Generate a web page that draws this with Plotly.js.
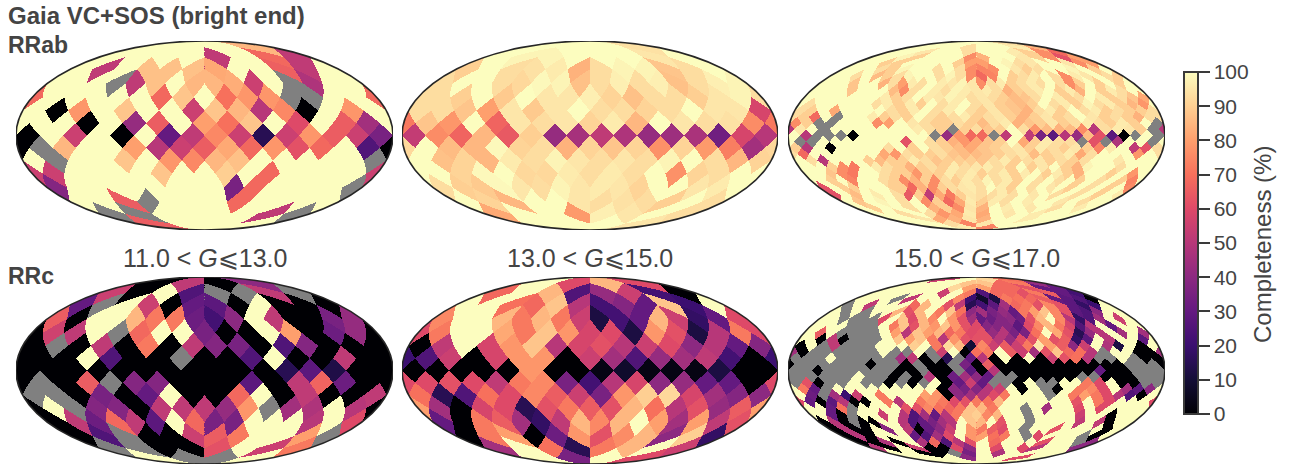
<!DOCTYPE html>
<html><head><meta charset="utf-8">
<script src="https://cdn.plot.ly/plotly-3.0.1.min.js"></script>
<style>html,body{margin:0;padding:0;background:#fff}</style></head>
<body><div id="chart" style="width:1289px;height:467px"></div>
<script>
// Completeness (%) per HEALPix pixel, ring by ring from north to south, left to right on screen. null = no data (grey).
const rrab_11_13=[
[100,100,100,85],
[100,100,100,100,52,100,68,52],
[100,52,100,87,87,87,82,100,100,66,52,100],
[100,100,100,null,52,87,100,85,85,83,55,100,null,48,100,100],
[68,100,100,100,100,100,68,88,100,70,78,78,null,null,100,100],
[100,0,78,100,88,100,100,55,88,85,50,75,0,100,78,100],
[100,100,100,0,100,42,65,100,80,70,88,100,60,100,65,45],
[0,100,55,100,0,100,30,52,75,55,15,55,78,65,55,35],
[0,null,85,100,100,80,50,55,65,82,68,78,62,68,100,25],
[100,null,100,100,88,100,78,75,85,87,100,100,100,100,100,null],
[55,55,100,100,100,100,88,100,100,90,100,68,100,100,100,100],
[38,100,100,100,100,100,100,100,100,35,68,100,100,100,100,null],
[100,100,65,null,100,100,100,68,100,100,100,100],
[null,null,100,100,100,100,52,null],
[65,100,100,100]];
const rrab_13_15=[
[100,100,100,94],
[100,98,98,100,100,100,95,100],
[90,100,93,94,96,84,93,98,98,88,93,100],
[93,100,100,93,92,99,98,87,93,97,93,97,87,93,97,98],
[93,93,90,100,89,100,95,95,97,91,87,93,93,90,95,98],
[93,93,88,80,95,89,95,100,93,93,91,93,100,95,95,58],
[72,88,78,100,67,95,93,95,91,96,85,100,95,93,94,76],
[53,76,67,85,64,90,42,46,52,48,42,44,47,33,58,50],
[92,100,86,85,99,91,93,84,91,88,91,77,91,79,73,45],
[100,87,91,85,96,93,98,95,93,95,93,98,100,93,85,91],
[100,100,91,99,100,92,92,96,93,96,93,100,77,91,93,100],
[93,90,89,99,95,93,98,95,96,95,91,100,100,95,96,100],
[100,91,85,100,100,95,93,94,93,90,100,93],
[82,100,100,79,97,95,100,93],
[100,100,100,95]];
const rrab_15_17=[
[100,100,100,94],
[100,100,100,93,100,100,96,84],
[100,100,95,100,100,93,100,100,96,90,76,68],
[100,100,98,90,100,100,100,76,84,100,100,95,90,76,62,80],
[100,100,90,90,100,100,100,100,90,80,80,100,98,93,95,100,100,95,76,80],
[100,100,100,93,90,98,100,100,93,100,93,76,74,76,100,95,90,93,100,100,98,100,90,100],
[100,100,93,100,86,90,93,98,100,100,93,98,93,76,68,74,100,90,93,96,100,93,76,96,95,100,93,90],
[100,100,100,88,100,100,84,93,80,96,93,100,96,95,98,95,76,93,96,90,93,96,93,100,93,76,90,100,90,100,90,100],
[100,100,100,100,88,100,100,100,86,76,93,100,96,93,98,96,95,96,93,84,90,93,96,100,90,96,84,100,90,96,93,100],
[100,100,100,100,100,100,100,96,90,93,100,96,95,98,96,93,95,93,90,86,88,93,100,96,90,93,100,96,90,93,88,82],
[100,93,100,100,100,100,100,93,96,90,96,90,100,93,96,100,93,95,90,88,86,90,100,93,96,90,98,93,96,90,85,78],
[93,90,100,82,100,100,100,100,93,90,96,100,93,96,100,93,90,95,90,88,84,93,96,90,100,93,96,90,93,90,90,93],
[93,90,68,100,null,100,100,96,90,93,90,100,93,90,93,96,90,93,95,90,84,90,95,90,93,100,95,90,93,90,84,93],
[76,90,null,null,100,100,100,76,80,100,95,93,90,90,93,90,86,93,96,84,88,90,95,90,93,96,93,90,96,90,100,null],
[50,95,100,null,100,100,100,100,100,100,100,96,93,90,null,90,93,88,90,100,93,78,86,84,86,76,50,93,96,95,90,null],
[100,50,null,null,null,0,100,100,100,100,100,100,null,42,78,68,68,null,52,100,52,35,28,50,42,86,62,28,0,null,100,null],
[100,null,null,100,100,100,100,100,100,100,62,100,93,90,84,78,82,88,90,100,82,90,96,93,93,null,62,null,48,100,100,null],
[90,50,100,0,100,100,100,100,93,100,90,100,93,90,86,82,88,90,93,95,90,96,93,90,95,90,74,96,100,52,62,93],
[93,68,100,100,100,100,100,100,82,78,93,90,90,93,88,86,86,88,90,93,95,86,90,93,96,82,93,100,100,100,78,100],
[100,93,50,100,100,100,90,86,90,90,96,93,88,90,90,90,88,93,96,90,93,95,90,93,90,93,100,100,95,100,100,100],
[100,100,100,90,76,72,100,96,93,90,84,90,93,90,96,93,95,96,93,90,100,90,95,100,90,84,98,100,100,93,100,100],
[100,100,88,76,72,100,100,93,90,90,78,90,90,96,93,96,90,93,96,90,96,100,90,96,90,84,100,100,90,100,78,100],
[100,100,90,100,74,100,100,93,90,76,84,90,76,93,90,96,93,98,93,96,90,100,93,100,93,100,90,100,93,100,90,74],
[62,100,90,90,100,100,100,90,90,68,84,76,90,93,95,96,93,100,96,90,100,93,100,95,100,90,100,93,100,90,100,76],
[62,100,86,100,96,100,93,64,90,52,82,72,90,95,93,93,96,93,100,95,100,93,100,93,100,90,100,96],
[100,88,100,98,100,93,100,76,90,68,82,96,90,96,93,100,96,100,100,95,100,93,100,100],
[100,90,100,100,93,100,84,90,76,95,84,100,96,100,95,100,93,100,96,100],
[100,100,93,100,93,78,82,96,82,100,95,100,96,100,100,100],
[100,100,95,82,84,95,84,100,100,96,100,100],
[100,100,93,74,95,100,100,100],
[100,96,74,100]];
const rrc_11_13=[
[0,52,0,40],
[55,0,100,25,null,null,52,null],
[30,null,100,55,0,30,28,0,100,0,0,0],
[65,0,100,100,85,72,72,32,22,40,100,52,0,0,35,42],
[0,56,52,100,null,68,100,100,35,0,0,100,80,0,32,42],
[0,null,0,52,0,72,0,52,38,35,0,25,38,0,0,0],
[0,0,0,100,25,0,0,null,0,0,25,100,0,0,52,0],
[0,0,0,0,0,0,0,0,0,0,0,15,28,13,0,0],
[0,null,0,65,null,38,38,0,0,0,28,0,52,67,32,0],
[null,null,0,35,0,30,100,0,0,68,100,0,52,0,0,52],
[0,100,null,38,38,0,52,52,52,42,78,null,45,48,100,50],
[0,52,32,68,52,28,100,68,35,35,100,100,100,50,100,60],
[0,25,null,0,0,55,65,72,100,100,80,null],
[null,null,0,0,62,100,55,72],
[100,null,null,100]];
const rrc_13_15=[
[100,60,85,60],
[68,100,85,25,42,55,22,0],
[100,100,70,68,88,50,22,38,30,88,20,100],
[75,100,100,85,72,85,72,55,12,22,30,85,55,18,30,60],
[60,72,100,100,82,72,88,78,58,60,12,78,62,12,50,72],
[0,52,100,58,78,88,50,58,62,50,55,60,40,50,30,38],
[20,25,55,0,58,78,78,0,55,45,25,42,45,52,22,0],
[0,0,0,0,0,78,0,0,3,8,3,3,3,12,0,0],
[60,60,62,60,52,72,75,35,22,50,58,40,42,30,30,0],
[70,15,25,70,60,75,65,55,35,78,90,92,58,45,38,40],
[80,45,0,58,60,15,62,72,65,62,85,70,50,62,42,65],
[30,0,72,65,45,18,52,85,75,85,100,80,45,80,52,62],
[0,72,80,0,32,78,62,76,85,40,90,18],
[45,100,70,15,72,85,100,55],
[100,35,100,60]];
const rrc_15_17=[
[55,100,92,70],
[100,100,100,88,88,68,72,42],
[100,100,100,100,92,80,80,68,68,62,30,30],
[100,100,100,100,100,55,100,72,25,68,68,62,72,65,30,22],
[100,100,100,null,52,100,100,100,75,20,8,12,72,70,68,65,30,28,25,0],
[null,100,52,100,100,100,68,85,100,62,52,15,22,28,45,68,72,62,75,62,28,18,20,100],
[100,null,100,null,100,100,85,62,85,100,72,88,70,40,45,35,42,30,72,80,88,75,62,28,25,40,100,100],
[100,100,null,null,null,null,60,100,88,60,85,75,100,78,62,45,30,32,38,40,32,62,85,100,75,50,18,25,45,100,55,100],
[100,100,100,100,null,null,null,100,72,88,62,85,78,88,78,62,60,38,38,38,28,60,75,85,72,58,25,50,100,30,100,100],
[100,65,100,null,null,null,null,100,80,50,88,80,85,68,72,60,62,42,50,35,35,70,100,82,62,15,42,50,100,45,100,45],
[100,100,0,52,0,null,null,null,100,88,80,88,72,50,78,62,62,62,50,42,60,62,80,62,65,18,28,100,50,100,100,28],
[0,100,null,52,null,null,null,100,100,100,90,100,72,92,85,10,75,55,65,55,72,95,80,65,40,55,100,48,12,100,0,100],
[45,0,null,null,null,null,null,null,100,null,null,100,null,55,100,0,70,72,100,65,55,45,62,88,68,70,50,null,100,100,0,0],
[null,null,null,100,null,null,null,null,null,45,52,0,null,15,null,30,50,0,100,0,100,0,55,62,70,50,null,null,100,null,0,0],
[0,null,null,null,null,null,null,0,null,null,0,null,0,0,null,35,0,65,0,0,0,0,0,0,0,0,0,0,0,null,null,null],
[null,null,0,null,null,null,null,null,null,0,0,null,0,0,null,28,0,50,0,0,0,0,0,0,0,0,30,0,0,null,null,null],
[null,null,null,null,null,null,100,null,null,0,null,0,50,0,32,45,40,30,null,null,0,0,0,0,0,null,null,0,0,0,null,null],
[null,62,0,null,null,100,null,null,0,null,0,null,100,0,30,55,30,null,null,0,100,null,null,100,100,72,60,100,0,0,null,null],
[100,72,30,null,100,100,100,100,100,100,100,100,100,0,40,35,38,50,55,100,0,100,null,0,100,72,75,60,100,45,28,40],
[100,32,null,45,20,55,100,72,100,100,100,80,78,0,40,45,50,60,72,100,100,100,null,100,72,80,72,60,50,25,0,100],
[60,30,0,28,50,0,0,100,72,50,100,72,78,72,60,62,72,70,85,100,100,100,100,100,100,62,100,72,60,100,100,100],
[100,100,30,70,null,100,100,100,100,62,62,75,70,68,72,88,85,72,100,100,null,100,45,100,100,60,100,60,100,100,100,100],
[100,100,30,0,null,100,100,55,100,50,25,45,30,50,72,88,90,75,85,100,100,null,100,100,100,100,55,100,100,0,100,100],
[0,50,0,null,0,0,100,100,50,25,30,35,45,50,100,88,85,100,62,100,100,null,100,100,100,100,52,100,52,0,100,100],
[0,50,0,0,100,40,100,52,0,30,40,55,100,78,72,65,60,100,null,100,100,62,100,100,100,100,0,100],
[0,50,0,100,100,100,30,25,45,60,100,78,80,70,72,100,null,60,100,100,100,null,0,100],
[0,0,48,0,100,48,68,25,50,62,100,68,100,100,100,62,100,100,null,40],
[50,0,100,55,0,0,60,40,100,60,100,60,50,100,100,40],
[100,100,0,0,null,35,100,48,100,100,100,100],
[100,100,100,40,100,100,60,100],
[100,100,100,100]];

const panelMaps=[rrab_11_13,rrab_13_15,rrab_15_17,rrc_11_13,rrc_13_15,rrc_15_17];
const panelNside=[4,4,8,4,4,8];
const magTitles=['11.0 < <i>G</i>⩽13.0','13.0 < <i>G</i>⩽15.0','15.0 < <i>G</i>⩽17.0'];
const cbTicks=[0,10,20,30,40,50,60,70,80,90,100];
const magma=[[0,'#000004'],[.1,'#140e36'],[.2,'#3b0f70'],[.3,'#641a80'],[.4,'#8c2981'],[.5,'#b73779'],[.6,'#de4968'],[.7,'#f7705c'],[.8,'#fe9f6d'],[.9,'#fecf92'],[1,'#fcfdbf']];

const W=1289,H=467;
const colX=[[16,393],[402,778],[788,1165]];
const rowY=[[41,230],[277,464]];
const PI=Math.PI, R2=Math.SQRT2;

// Sky position (longitude on screen, z = sin latitude) -> the ring / index of the HEALPix pixel
function lookup(map,N,lon,z){
  let xs,ys;const az=Math.abs(z);
  if(az<=2/3){xs=lon;ys=3*PI/8*z;}
  else{
    const sg=Math.sqrt(3*(1-az));
    const k=Math.min(3,Math.floor((lon+PI)/(PI/2)));
    const ap=-PI+PI/4+k*PI/2;
    xs=ap+(lon-ap)*sg;
    ys=(z>0?1:-1)*PI/4*(2-sg);
  }
  const st=PI/(2*N);
  const A=Math.floor((xs+ys)/st),B=Math.floor((xs-ys)/st);
  const xc=(A+B+1)/2*st,yc=(A-B)/2*st;
  let ring=Math.round((PI/2-yc)/(st/2));
  ring=Math.max(1,Math.min(4*N-1,ring));
  const row=map[ring-1];let idx;
  if(ring>=N&&ring<=3*N){
    const s=(ring-N+1)%2;
    idx=Math.round((xc+PI)/st-(s?.5:0));
    idx=((idx%(4*N))+4*N)%(4*N);
  }else{
    const i=ring<N?ring:4*N-ring;
    const k=Math.max(0,Math.min(3,Math.floor((xc+PI)/(PI/2))));
    const ap=-PI+PI/4+k*PI/2;
    const p=Math.max(0,Math.min(i-1,Math.round((xc-ap)/st+(i-1)/2)));
    idx=k*i+p;
  }
  return row[idx];
}

const traces=[],shapes=[],ann=[],layout={};
panelMaps.forEach((m,n)=>{
  const N=panelNside[n];
  m.forEach((r,i)=>{const ii=i+1;const e=ii<N?4*ii:(ii<=3*N?4*N:4*(4*N-ii));if(r.length!==e)console.error('panel',n,'ring',ii,r.length,'expected',e);});
  const cx=colX[n%3],cy=rowY[Math.floor(n/3)];
  const nx=Math.round(cx[1]-cx[0]),ny=Math.round(cy[1]-cy[0]);
  const xs=[],ys=[];
  for(let i=0;i<nx;i++)xs.push(-2*R2+(i+.5)/nx*4*R2);
  for(let j=0;j<ny;j++)ys.push(-R2+(j+.5)/ny*2*R2);
  const zv=[],zg=[];
  ys.forEach(Y=>{
    const th=Math.asin(Y/R2),c=Math.cos(th),zz=(2*th+Math.sin(2*th))/PI;
    const a=[],b=[];
    xs.forEach(X=>{
      if(Math.abs(X)>2*R2*c){a.push(null);b.push(null);return;}
      const lon=PI*X/(2*R2*c);
      const v=lookup(m,N,lon,zz);
      if(v===null||v===undefined){a.push(null);b.push(1);}
      else{a.push(v);b.push(null);}
    });
    zv.push(a);zg.push(b);
  });
  const s=n===0?'':String(n+1);
  traces.push({type:'heatmap',x:xs,y:ys,z:zg,xaxis:'x'+s,yaxis:'y'+s,zmin:0,zmax:1,showscale:false,colorscale:[[0,'#808080'],[1,'#808080']],hoverinfo:'skip'});
  traces.push({type:'heatmap',x:xs,y:ys,z:zv,xaxis:'x'+s,yaxis:'y'+s,coloraxis:'coloraxis',hoverinfo:'skip'});
  const base={visible:false,fixedrange:true};
  layout['xaxis'+s]=Object.assign({},base,{range:[-2*R2,2*R2],domain:[cx[0]/W,cx[1]/W],anchor:'y'+s});
  layout['yaxis'+s]=Object.assign({},base,{range:[-R2,R2],domain:[1-cy[1]/H,1-cy[0]/H],anchor:'x'+s});
  shapes.push({type:'circle',xref:'x'+s,yref:'y'+s,x0:-2*R2,x1:2*R2,y0:-R2,y1:R2,line:{color:'#262626',width:1.6},fillcolor:'rgba(0,0,0,0)',layer:'above'});
});

const txt='#444444',ff='"Liberation Sans",Arial,sans-serif';
function note(t,x,y,size,bold,anchor,angle){ann.push({text:bold?'<b>'+t+'</b>':t,xref:'paper',yref:'paper',x:x/W,y:1-y/H,xanchor:anchor,yanchor:'middle',showarrow:false,textangle:angle||0,font:{family:ff,size:size,color:txt}});}
note('Gaia VC+SOS (bright end)',6,15,24,true,'left');
note('RRab',6,45,23,true,'left');
note('RRc',6,276,23,true,'left');
magTitles.forEach((t,i)=>note(t,(colX[i][0]+colX[i][1])/2,258,25,false,'center'));
note('Completeness (%)',1263,245,24,false,'center',-90);

Object.assign(layout,{width:W,height:H,margin:{l:0,r:0,t:0,b:0},paper_bgcolor:'#fff',plot_bgcolor:'#fff',shapes:shapes,annotations:ann,showlegend:false,
 coloraxis:{cmin:0,cmax:100,colorscale:magma,colorbar:{
  x:1184/W,xanchor:'left',xpad:0,y:(H-414)/H,yanchor:'bottom',ypad:0,
  thicknessmode:'pixels',thickness:14,lenmode:'pixels',len:342,
  outlinecolor:'#3a3a3a',outlinewidth:2,
  tickmode:'array',tickvals:cbTicks,ticktext:cbTicks.map(String),ticks:'outside',ticklen:11,tickwidth:2,tickcolor:'#3a3a3a',
  tickfont:{family:ff,size:21,color:txt}
 }}});
Plotly.newPlot('chart',traces,layout,{staticPlot:true,displayModeBar:false});
</script></body></html>
